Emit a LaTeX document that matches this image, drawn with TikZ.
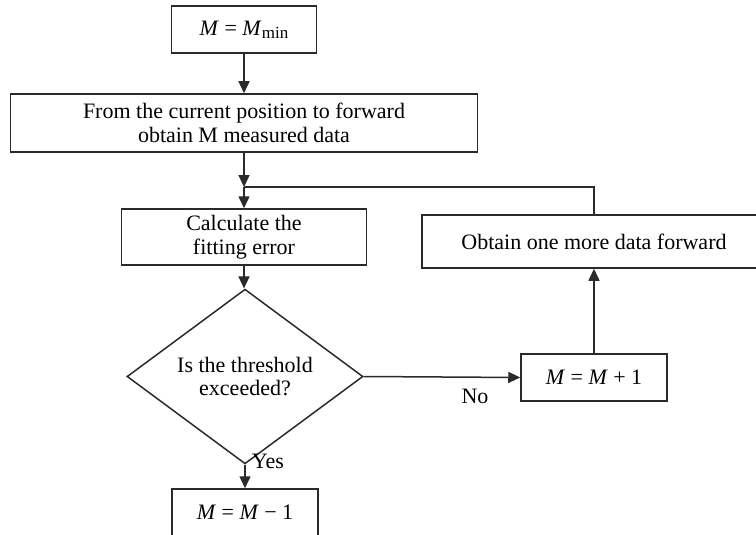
\documentclass[tikz,border=0pt]{standalone}
\usepackage{fontspec}
\setmainfont{Liberation Serif}
\usetikzlibrary{arrows.meta,shapes.geometric}
\definecolor{linec}{HTML}{2A2A2A}
\begin{document}
\begin{tikzpicture}[x=1pt,y=-1pt,
  every node/.style={font=\fontsize{22pt}{23.5pt}\selectfont, text=black},
  procbox/.style={draw=linec, line width=1.5pt, rectangle, inner sep=0pt, align=center},
  decbox/.style={draw=linec, line width=1.5pt, diamond, inner sep=0pt, align=center},
  conn/.style={draw=linec, line width=1.5pt},
  arr/.style={conn, -{Triangle[length=12pt,width=11pt]}},
  lbl/.style={inner sep=0pt}
]
\useasboundingbox (0,0) rectangle (756,535);

\node[procbox, minimum width=145pt, minimum height=47pt] (A) at (244,29.5) {\textit{M} = \textit{M}\raisebox{-0.3ex}{\fontsize{17pt}{17pt}\selectfont min}};
\node[procbox, minimum width=467pt, minimum height=58pt] (B) at (244,123) {From the current position to forward\\obtain M measured data};
\coordinate (merge) at (244,187);
\node[procbox, minimum width=245pt, minimum height=56pt] (C) at (244,237) {Calculate the\\fitting error};
\node[decbox, minimum width=236pt, minimum height=141pt] (D) at (245,376.5) {Is the threshold\\exceeded?};
\node[procbox, minimum width=146pt, minimum height=47pt] (E) at (594,377.5) {\textit{M} = \textit{M} + 1};
\node[procbox, minimum width=344pt, minimum height=53pt] (F) at (594,241.5) {Obtain one more data forward};
\node[procbox, minimum width=146pt, minimum height=47pt] (G) at (245,512.5) {\textit{M} = \textit{M} − 1};

\draw[arr] (A.south) -- (B.north);
\draw[arr] (B.south) -- (merge);
\draw[arr] (merge) -- (C.north);
\draw[conn] (F.north) |- (merge);
\draw[arr] (C.south) -- (C.south |- D.north);
\draw[arr] (D.east) -- (E.west);
\draw[arr] (E.north) -- (F.south);
\draw[arr] (D.south) -- (G.north);

\node[lbl] (no) at (475,396) {No};
\node[lbl] (yes) at (268,461) {Yes};
\end{tikzpicture}
\end{document}
